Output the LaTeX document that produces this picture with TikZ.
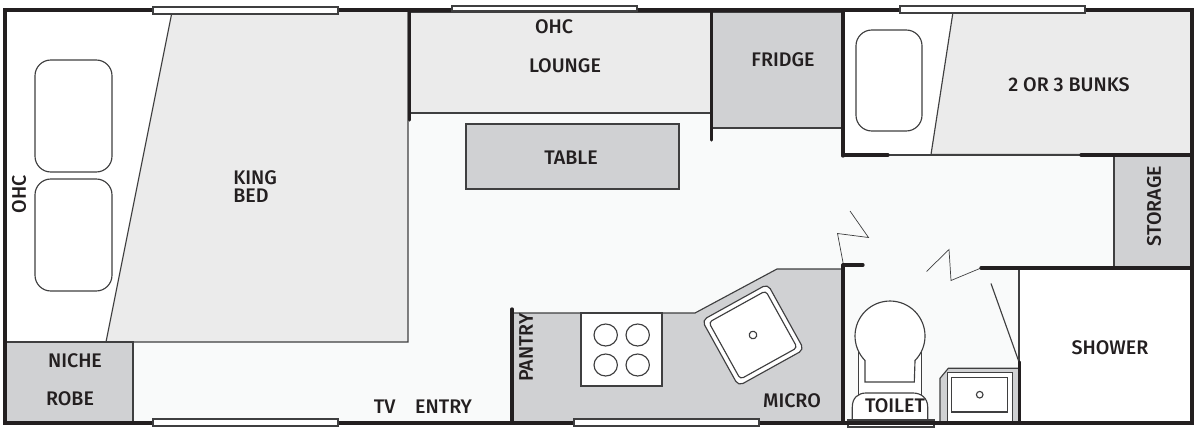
\documentclass[tikz,border=0pt]{standalone}
\usepackage{fontspec}
\setmainfont{Fira Sans}[BoldFont={Fira Sans Medium}]
\definecolor{floorc}{HTML}{F9FAFA}
\definecolor{bedc}{HTML}{EBEBEB}
\definecolor{unitc}{HTML}{D0D1D3}
\definecolor{wallc}{HTML}{231F20}
\definecolor{linec}{HTML}{3F3F40}
\tikzset{
  wall/.style={draw=wallc,line width=1.9pt,line cap=round},
  thin line/.style={draw=linec,line width=0.65pt},
  fine line/.style={draw=linec,line width=0.4pt},
  bedarea/.style={thin line,fill=bedc},
  unit/.style={thin line,fill=unitc},
  whitearea/.style={thin line,fill=white},
  windowbar/.style={draw=linec,line width=0.7pt,fill=white},
  cushion/.style={thin line,fill=white,rounded corners=9pt},
  label/.style={font=\bfseries\fontsize{11.2}{11.2}\selectfont,text=wallc,inner sep=0pt,align=left},
}
\begin{document}
\begin{tikzpicture}[x=0.02cm,y=-0.02cm]
\useasboundingbox (0,0) rectangle (1200,433);
% floor
\fill[floorc] (5,10) rectangle (1192,423);
\fill[white] (5,10) rectangle (408,342);
\fill[white] (843,10) rectangle (1192,155);
% king bed
\draw[bedarea] (172,12) -- (106,342) -- (408,342) -- (408,12);
\draw[cushion] (35,60) rectangle (112,172);
\draw[cushion] (35,179) rectangle (112,291);
\draw[unit] (5,342) rectangle (133,423);
% lounge, fridge, table
\draw[bedarea] (410,12) rectangle (711,113);
\draw[unit] (711,12) rectangle (843,128);
\draw[unit] (466,124) rectangle (679,189);
% bunks
\draw[bedarea] (953,12) -- (931,154.5) -- (1192,154.5) -- (1192,12);
\draw[cushion] (856,30) rectangle (922,131);
% storage, shower
\draw[unit] (1114,155) rectangle (1192,268);
\draw[whitearea] (1019,268) rectangle (1192,423);
% kitchen
\draw[unit] (512,313) -- (695,313) -- (777,269) -- (843,269) -- (843,423) -- (512,423) -- cycle;
\draw[whitearea] (581,313) rectangle (662,386);
\foreach \cx/\cy in {605.7/335,637.7/335,605.7/365,637.7/365}
  \draw[thin line] (\cx,\cy) ellipse [x radius=11.7,y radius=11];
\begin{scope}[shift={(753,335)},rotate=29]
  \draw[thin line,fill=white,rounded corners=3pt] (-37.5,-37.5) rectangle (37.5,37.5);
  \draw[thin line,rounded corners=2pt] (-32.5,-32.5) rectangle (32.5,32.5);
  \draw[thin line] (0,0) circle [radius=3.8];
\end{scope}
% toilet
\draw[thin line,fill=white] (858.3,351) -- (858.3,400) -- (921.7,400) -- (921.7,351);
\draw[thin line,fill=white] (865,382) -- (865,360.5) arc [start angle=135.6,end angle=404.4,radius=35] -- (914.3,382) -- cycle;
\draw[thin line,fill=white] (852.3,420) -- (852.3,407) .. controls (852.3,398) and (858,393) .. (866,393) -- (913,393) .. controls (921,393) and (927.7,398) .. (927.7,407) -- (927.7,420);
\draw[windowbar] (848,420) rectangle (934,427);
% vanity
\draw[unit] (940,423) -- (940,378.3) -- (948.3,368.3) -- (1019,368.3) -- (1019,423) -- cycle;
\draw[whitearea] (947.3,423) -- (947.3,372.7) -- (1012.7,372.7) -- (1012.7,423);
\draw[whitearea] (951.7,377.3) rectangle (1007.7,412);
\draw[thin line] (979.7,394.7) circle [radius=3.3];
% doors
\draw[fine line] (981,268) -- (951,280.5) -- (949,249.5) -- (926.5,271.5);
\draw[fine line] (843.5,265) -- (837.5,233.5) -- (868.5,237.5) -- (850,211);
\draw[thin line] (991,283.5) -- (1019,362);
\draw[thin line] (1019,268) -- (1019,362);
\draw[thin line] (888,155) -- (1081,155);
% walls
\draw[wall,line cap=rect] (5,10) rectangle (1192,423);
\draw[wall] (409.5,10) -- (409.5,120);
\draw[wall] (711.5,10) -- (711.5,140);
\draw[wall] (843,10) -- (843,156);
\draw[wall] (843,155) -- (888,155);
\draw[wall] (1081,155) -- (1192,155);
\draw[wall] (981,268) -- (1192,268);
\draw[wall] (843,265) -- (863,265);
\draw[wall] (843,265) -- (843,423);
\draw[wall] (512,309) -- (512,423);
\draw[wall] (1019.5,362) -- (1019.5,423);
% windows
\draw[windowbar] (153,7) rectangle (338,14);
\draw[windowbar] (452,6) rectangle (637,11);
\draw[windowbar] (900,6) rectangle (1085,13);
\draw[windowbar] (153,419) rectangle (338,426);
\draw[windowbar] (574,419) rectangle (759,426);
% labels
\node[label] (ohcleft) at (19,194) [rotate=90] {OHC};
\node[label,anchor=west] (king) at (233,178) {KING};
\node[label,anchor=west] (bed) at (233,196) {BED};
\node[label] (niche) at (75,360.5) {NICHE};
\node[label] (robe) at (70,399) {ROBE};
\node[label] (entry) at (423,406.5) {TV\hspace{1em}ENTRY};
\node[label] (ohctop) at (554,27) {OHC};
\node[label] (lounge) at (565,65.5) {LOUNGE};
\node[label] (fridge) at (783,59.5) {FRIDGE};
\node[label] (table) at (571,157.5) {TABLE};
\node[label] (bunks) at (1069,84.5) {2 OR 3 BUNKS};
\node[label] (storage) at (1154,206) [rotate=90] {STORAGE};
\node[label] (shower) at (1110,347.5) {SHOWER};
\node[label] (toilet) at (895,405.5) {TOILET};
\node[label] (micro) at (792,401) {MICRO};
\node[label] (pantry) at (526,347.5) [rotate=90] {PANTRY};
\end{tikzpicture}
\end{document}
